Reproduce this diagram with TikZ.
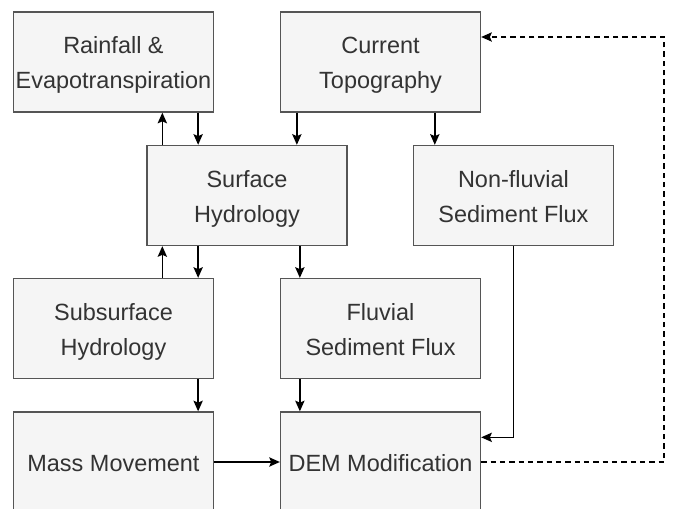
\documentclass[tikz,border=0pt]{standalone}
\usepackage{fontspec}
\setmainfont{Liberation Sans}
\usepackage{tikz}
\usepackage{xcolor}
\usetikzlibrary{positioning, calc, arrows.meta}

\definecolor{boxfill}{HTML}{F5F5F5}
\definecolor{boxline}{HTML}{555555}
\definecolor{boxtext}{HTML}{333333}

\begin{document}
\begin{tikzpicture}[
    block/.style={rectangle, draw=boxline, fill=boxfill, line width=1pt,
        minimum width=150pt, minimum height=75pt, align=center, text=boxtext,
        inner sep=0pt, font=\fontsize{17.6}{26.25}\selectfont,
        execute at begin node={\rule[-5pt]{0pt}{#1}}},
    block/.default=50.5pt,
    arr/.style={line width=1.1pt, -{Stealth[length=8pt, width=7pt, inset=1.5pt]}}
]
    \useasboundingbox (0pt,0pt) rectangle (506.25pt,-381.75pt);
    \node[block] (rain)  at (85.1pt,-46.5pt)   {Rainfall \&\\Evapotranspiration};
    \node[block] (topo)  at (285.4pt,-46.5pt)  {Current\\Topography};
    \node[block] (surf)  at (185.25pt,-146.6pt) {Surface\\Hydrology};
    \node[block] (nonfl) at (385.1pt,-146.6pt) {Non-fluvial\\Sediment Flux};
    \node[block] (subs)  at (85.1pt,-246.4pt)  {Subsurface\\Hydrology};
    \node[block] (fluv)  at (285.4pt,-246.4pt) {Fluvial\\Sediment Flux};
    \node[block=24.5pt] (mass)  at (85.1pt,-346.5pt)  {Mass Movement};
    \node[block=24.5pt] (dem)   at (285.4pt,-346.5pt) {DEM Modification};
    \coordinate (loop) at (498pt,0pt);

    \draw[arr] ([xshift=12pt]surf.north west) -- ([xshift=12pt]surf.north west |- rain.south);
    \draw[arr] ([xshift=-12pt]rain.south east) -- ([xshift=-12pt]rain.south east |- surf.north);
    \draw[arr] ([xshift=12.75pt]topo.south west) -- ([xshift=12.75pt]topo.south west |- surf.north);
    \draw[arr] ([xshift=16.5pt]nonfl.north west |- topo.south) -- ([xshift=16.5pt]nonfl.north west);
    \draw[arr] ([xshift=12pt]surf.south west |- subs.north) -- ([xshift=12pt]surf.south west);
    \draw[arr] ([xshift=-12pt]subs.north east |- surf.south) -- ([xshift=-12pt]subs.north east);
    \draw[arr] ([xshift=15pt]fluv.north west |- surf.south) -- ([xshift=15pt]fluv.north west);
    \draw[arr] ([xshift=-12pt]subs.south east) -- ([xshift=-12pt]mass.north east);
    \draw[arr] ([xshift=15pt]fluv.south west) -- ([xshift=15pt]dem.north west);
    \draw[arr] (nonfl.south) |- ([yshift=-19.5pt]dem.north east);
    \draw[arr] (mass) -- (dem);
    \draw[arr, dashed, line width=0.9pt, dash pattern=on 4pt off 3pt]
        (dem.east) -| ([yshift=18.75pt]topo.east -| loop) -- ([yshift=18.75pt]topo.east);
\end{tikzpicture}
\end{document}
